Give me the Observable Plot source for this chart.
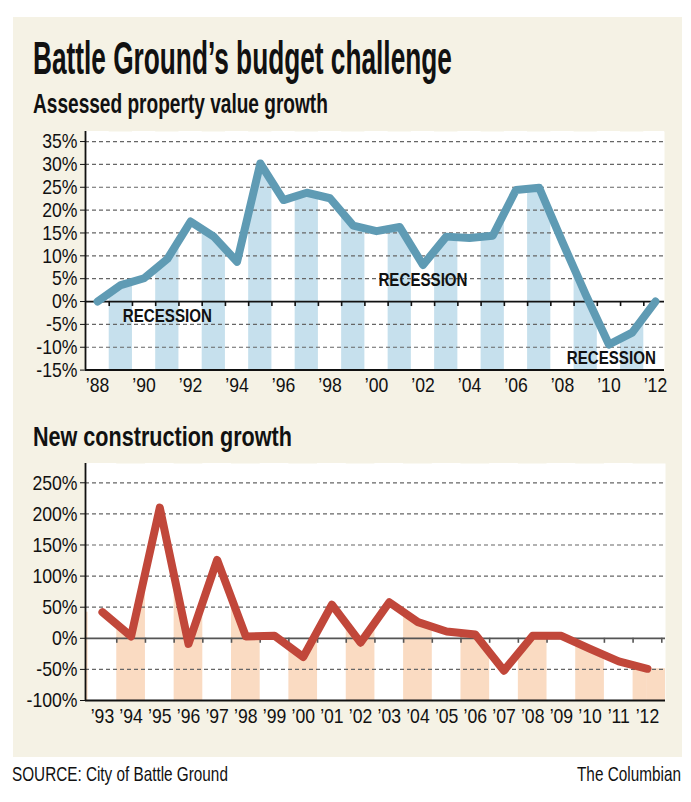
<!DOCTYPE html>
<html>
<head>
<meta charset="utf-8">
<script src="https://cdn.jsdelivr.net/npm/d3@7"></script>
<script src="https://cdn.jsdelivr.net/npm/@observablehq/plot@0.6"></script>
<style>
  body { margin: 0; background: #fff; width: 691px; height: 802px; position: relative; overflow: hidden; font-family: "Liberation Sans", sans-serif; }
  #panel { position: absolute; left: 13px; top: 17px; width: 669px; height: 740px; background: #f5f2e5; }
  .abs { position: absolute; left: 0; }
  #texts text { font-family: "Liberation Sans", sans-serif; fill: #111; }
</style>
</head>
<body>
<div id="panel"></div>
<div id="top" class="abs" style="top:120px"></div>
<div id="bottom" class="abs" style="top:450px"></div>
<svg id="texts" class="abs" style="top:0" width="691" height="802"></svg>
<script>
// ---- Headings ----
const headings = [
  {text: "Battle Ground’s budget challenge", x: 33, y: 74, size: 46, weight: "bold", width: 419},
  {text: "Assessed property value growth", x: 33, y: 113, size: 27, weight: "bold", width: 295},
  {text: "New construction growth", x: 33, y: 446, size: 27, weight: "bold", width: 259},
  {text: "SOURCE: City of Battle Ground", x: 12, y: 781, size: 20, weight: "normal", width: 216},
  {text: "The Columbian", x: 577, y: 781, size: 20, weight: "normal", width: 104}
];

// ---- Assessed property value growth (%) ----
const propYears = [1988, 1989, 1990, 1991, 1992, 1993, 1994, 1995, 1996, 1997, 1998, 1999, 2000,
                   2001, 2002, 2003, 2004, 2005, 2006, 2007, 2008, 2009, 2010, 2011, 2012];
const propGrowth = [0, 3.6, 5.1, 9.3, 17.5, 14.2, 8.7, 30.2, 22.2, 23.8, 22.6, 16.6, 15.4,
                    16.3, 8.0, 14.2, 13.9, 14.4, 24.4, 24.9, 13.0, 1.5, -9.4, -6.8, 0];
const propTicks = [-15, -10, -5, 0, 5, 10, 15, 20, 25, 30, 35];
const propLabelYears = [1988, 1990, 1992, 1994, 1996, 1998, 2000, 2002, 2004, 2006, 2008, 2010, 2012];
const recessionLabels = [
  {year: 1991, value: -3.3, label: "RECESSION"},
  {year: 2002, value: 4.6, label: "RECESSION"},
  {year: 2010.1, value: -12.5, label: "RECESSION"}
];

// ---- New construction growth (%) ----
const constYears = [1993, 1994, 1995, 1996, 1997, 1998, 1999, 2000, 2001, 2002,
                    2003, 2004, 2005, 2006, 2007, 2008, 2009, 2010, 2011, 2012];
const constGrowth = [42, 3, 210, -9, 126, 3, 4, -30, 54, -7,
                     58, 26, 11, 6, -52, 4, 4, -17, -37, -49];
const constTicks = [-100, -50, 0, 50, 100, 150, 200, 250];
const constLabelYears = constYears;

// Headings: draw at natural width, then squeeze horizontally to the condensed width
const textSvg = d3.select("#texts");
headings.forEach(h => {
  const t = textSvg.append("text")
    .attr("font-size", h.size).attr("font-weight", h.weight)
    .text(h.text);
  const len = t.node().getComputedTextLength();
  t.attr("transform", `translate(${h.x},${h.y}) scale(${h.width / len},1)`);
});

function chart(cfg) {
  const {years, values, xDomain, yDomain, ticks, labelYears, lineColor, fillColor,
         stripeParity, zeroColor, height, marginTop, marginBottom, marginRight, texts, tickPadding} = cfg;
  const data = years.map((year, i) => ({year, value: values[i]}));
  const [xa, xb] = xDomain;
  const [y0, y1] = yDomain;
  const pxPerUnit = (height - marginTop - marginBottom) / (y1 - y0);
  const tickLen = 5 / pxPerUnit;
  const masks = years.filter(y => y % 2 !== stripeParity)
    .map(y => ({x1: Math.max(y - 0.5, xa), x2: Math.min(y + 0.5, xb)}));
  const ends = [
    {x1: xa, x2: data[0].year, value: data[0].value},
    {x1: data[data.length - 1].year, x2: xb, value: data[data.length - 1].value}
  ];
  const boundaries = years.map(y => y + 0.5).filter(b => b < xb);
  return Plot.plot({
    width: 691, height,
    marginLeft: 85, marginRight, marginTop, marginBottom,
    style: {background: "transparent", fontFamily: "Liberation Sans, sans-serif", fontSize: "21px", color: "#111", overflow: "visible"},
    x: {domain: xDomain, ticks: labelYears, tickFormat: d => "’" + String(d).slice(2), tickSize: 0, tickPadding, label: null},
    y: {domain: yDomain, ticks, tickFormat: d => d + "%", tickSize: 5, tickPadding: 3, label: null},
    marks: [
      Plot.frame({fill: "white", stroke: "none"}),
      Plot.areaY(data, {x: "year", y1: y0, y2: "value", fill: fillColor}),
      Plot.rect(ends, {x1: "x1", x2: "x2", y1: y0, y2: "value", fill: fillColor}),
      Plot.rect(masks, {x1: "x1", x2: "x2", y1: y0, y2: y1, fill: "white"}),
      Plot.ruleY(ticks.filter(t => t !== 0 && t !== y0), {stroke: "#666", strokeWidth: 1.2, strokeDasharray: "4,3"}),
      Plot.ruleY([0], {stroke: zeroColor, strokeWidth: 1.8}),
      Plot.ruleX(boundaries, {y1: 0, y2: -tickLen, stroke: zeroColor, strokeWidth: 1.6}),
      Plot.ruleX([xa], {stroke: "#111", strokeWidth: 1.8}),
      Plot.ruleY([y0], {stroke: "#111", strokeWidth: 2}),
      Plot.line(data, {x: "year", y: "value", stroke: lineColor, strokeWidth: 8, strokeLinejoin: "round", strokeLinecap: "round"}),
      Plot.text(texts, {x: "year", y: "value", text: "label", fontWeight: "bold", fontSize: 18, fill: "#111"})
    ]
  });
}

// Narrow the glyphs of every text to mimic the condensed newspaper face
function condense(svg, factor) {
  svg.querySelectorAll("text").forEach(t => {
    const len = t.getComputedTextLength();
    if (len > 0) {
      t.setAttribute("textLength", (len * factor).toFixed(1));
      t.setAttribute("lengthAdjust", "spacingAndGlyphs");
    }
  });
}

const topChart = chart({
  years: propYears, values: propGrowth,
  xDomain: [1987.48, 2012.39], yDomain: [-15, 37.2],
  ticks: propTicks, labelYears: propLabelYears,
  lineColor: "#5f9bb4", fillColor: "#c6e0ed", stripeParity: 1, zeroColor: "#111",
  height: 290, marginTop: 11, marginBottom: 40.4, marginRight: 27, tickPadding: 7,
  texts: recessionLabels
});
document.getElementById("top").append(topChart);

const bottomChart = chart({
  years: constYears, values: constGrowth,
  xDomain: [1992.41, 2012.63], yDomain: [-100, 281],
  ticks: constTicks, labelYears: constLabelYears,
  lineColor: "#c1473a", fillColor: "#fadbc2", stripeParity: 0, zeroColor: "#555",
  height: 285, marginTop: 13, marginBottom: 35, marginRight: 26, tickPadding: 8,
  texts: []
});
document.getElementById("bottom").append(bottomChart);

condense(topChart, 0.84);
condense(bottomChart, 0.84);
</script>
</body>
</html>
